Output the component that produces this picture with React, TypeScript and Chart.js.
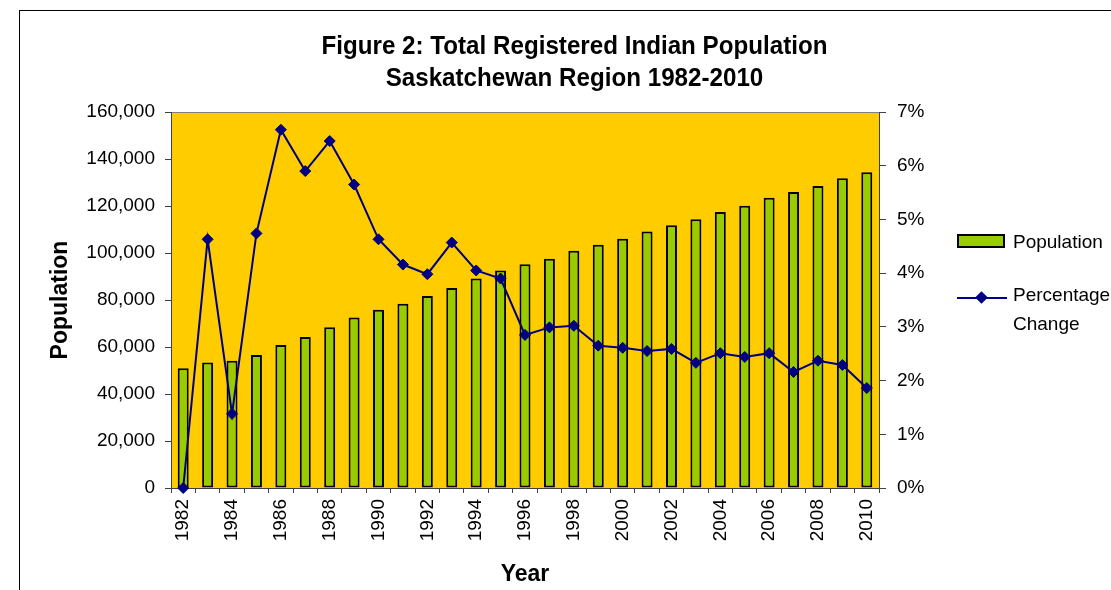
import { useEffect, useRef } from 'react';
import { Chart, registerables } from 'chart.js';

Chart.register(...registerables);

const years = [
  '1982', '1983', '1984', '1985', '1986', '1987', '1988', '1989', '1990', '1991',
  '1992', '1993', '1994', '1995', '1996', '1997', '1998', '1999', '2000', '2001',
  '2002', '2003', '2004', '2005', '2006', '2007', '2008', '2009', '2010',
];

const population = [
  51000, 53400, 54200, 56600, 60900, 64300, 68400, 72600, 75900, 78400,
  81700, 85100, 89200, 92600, 95200, 97600, 101000, 103500, 106100, 109200,
  111800, 114400, 117500, 120100, 123500, 126000, 128500, 131800, 134400,
];

const percentChange = [
  0, 4.63, 1.38, 4.74, 6.67, 5.9, 6.46, 5.65, 4.63, 4.16,
  3.98, 4.57, 4.05, 3.9, 2.85, 2.99, 3.02, 2.65, 2.61, 2.55,
  2.59, 2.33, 2.51, 2.44, 2.51, 2.16, 2.37, 2.29, 1.86,
];

const titleLines = ['Figure 2: Total Registered Indian Population', 'Saskatchewan Region 1982-2010'];
const legendLabels = ['Population', 'Percentage', 'Change'];

const FONT = '"Liberation Sans", Arial, Helvetica, sans-serif';
const BAR_GREEN = '#99CC00';
const PLOT_BG = '#FFCC00';
const NAVY = '#000080';
const AXIS = '#404040';

const plotBg = {
  id: 'plotBg',
  beforeDraw(chart: any) {
    const { ctx, chartArea } = chart;
    const { left, top, right, bottom } = chartArea;
    ctx.save();
    ctx.fillStyle = PLOT_BG;
    ctx.fillRect(left, top, right - left, bottom - top);
    ctx.strokeStyle = '#808080';
    ctx.lineWidth = 1;
    ctx.beginPath();
    ctx.moveTo(left, top + 0.5);
    ctx.lineTo(right, top + 0.5);
    ctx.stroke();
    ctx.restore();
  },
};

export default function App() {
  const canvasRef = useRef<HTMLCanvasElement | null>(null);

  useEffect(() => {
    if (!canvasRef.current) return;
    const chart = new Chart(canvasRef.current, {
      type: 'bar',
      data: {
        labels: years,
        datasets: [
          {
            type: 'line',
            label: 'Percentage Change',
            data: percentChange,
            yAxisID: 'y1',
            borderColor: NAVY,
            backgroundColor: NAVY,
            borderWidth: 2,
            pointStyle: 'rectRot',
            pointRadius: 5.5,
            pointBorderWidth: 1,
            pointBackgroundColor: NAVY,
            pointBorderColor: NAVY,
            tension: 0,
            clip: false,
            order: 0,
          } as any,
          {
            type: 'bar',
            label: 'Population',
            data: population,
            yAxisID: 'y',
            backgroundColor: BAR_GREEN,
            borderColor: '#000000',
            borderWidth: 2,
            borderSkipped: false,
            categoryPercentage: 1,
            barPercentage: 0.45,
            order: 1,
          } as any,
        ],
      },
      options: {
        responsive: false,
        animation: false,
        devicePixelRatio: 1,
        layout: { padding: { top: 112, left: 0, right: 0, bottom: 0 } },
        plugins: {
          legend: { display: false },
          title: { display: false },
          tooltip: { enabled: false },
        },
        scales: {
          x: {
            offset: true,
            grid: {
              offset: true,
              drawOnChartArea: false,
              drawTicks: true,
              tickLength: 5,
              color: AXIS,
            },
            border: { display: true, color: AXIS, width: 1 },
            ticks: {
              autoSkip: false,
              minRotation: 90,
              maxRotation: 90,
              padding: 6,
              color: '#000',
              font: { family: FONT, size: 19 },
              callback: function (this: any, value: any, index: number) {
                return index % 2 === 0 ? this.getLabelForValue(value) : '';
              },
            },
            title: {
              display: true,
              text: 'Year',
              color: '#000',
              font: { family: FONT, size: 23, weight: 'bold' },
              padding: { top: 0, bottom: 2 },
            },
            afterFit(scale: any) {
              scale.height = 102;
            },
          },
          y: {
            position: 'left',
            min: 0,
            max: 160000,
            grid: {
              drawOnChartArea: false,
              drawTicks: true,
              tickLength: 6,
              color: AXIS,
            },
            border: { display: true, color: AXIS, width: 1 },
            ticks: {
              stepSize: 20000,
              padding: 10,
              color: '#000',
              font: { family: FONT, size: 19 },
              callback: (v: any) => Number(v).toLocaleString('en-US'),
            },
            title: {
              display: true,
              text: 'Population',
              color: '#000',
              font: { family: FONT, size: 23, weight: 'bold' },
              padding: { top: 47, bottom: 0 },
            },
            afterFit(scale: any) {
              scale.width = 171;
            },
          },
          y1: {
            position: 'right',
            min: 0,
            max: 7,
            grid: {
              drawOnChartArea: false,
              drawTicks: true,
              tickLength: 7,
              color: AXIS,
            },
            border: { display: true, color: AXIS, width: 1 },
            ticks: {
              stepSize: 1,
              padding: 11,
              color: '#000',
              font: { family: FONT, size: 19 },
              callback: (v: any) => `${v}%`,
            },
            afterFit(scale: any) {
              scale.width = 232;
            },
          },
        },
      } as any,
      plugins: [plotBg],
    });
    return () => chart.destroy();
  }, []);

  return (
    <div
      style={{
        position: 'fixed',
        left: 0,
        top: 0,
        width: 1111,
        height: 590,
        overflow: 'hidden',
        background: '#ffffff',
        fontFamily: FONT,
        color: '#000',
      }}
    >
      <div
        style={{
          position: 'absolute',
          left: 19,
          top: 10,
          width: 1200,
          height: 700,
          borderLeft: '1px solid #000',
          borderTop: '1px solid #000',
        }}
      />
      <canvas
        ref={canvasRef}
        width={1111}
        height={590}
        style={{ position: 'absolute', left: 0, top: 0, width: 1111, height: 590 }}
      />
      <div
        style={{
          position: 'absolute',
          left: 0,
          top: 29,
          width: 1149,
          textAlign: 'center',
          fontWeight: 'bold',
          fontSize: 26,
          lineHeight: '32px',
          transform: 'scaleX(0.93)',
          transformOrigin: '574.5px 0',
          whiteSpace: 'nowrap',
        }}
      >
        {titleLines.map((t) => (
          <div key={t}>{t}</div>
        ))}
      </div>
      {/* Legend */}
      <div
        style={{
          position: 'absolute',
          left: 957,
          top: 234,
          width: 44,
          height: 10,
          background: BAR_GREEN,
          border: '2px solid #000',
        }}
      />
      <div
        style={{
          position: 'absolute',
          left: 1013,
          top: 228,
          fontSize: 19,
          lineHeight: '28px',
          whiteSpace: 'nowrap',
        }}
      >
        {legendLabels[0]}
      </div>
      <div
        style={{
          position: 'absolute',
          left: 957,
          top: 297,
          width: 50,
          height: 2,
          background: NAVY,
        }}
      />
      <div
        style={{
          position: 'absolute',
          left: 977,
          top: 293,
          width: 9,
          height: 9,
          background: NAVY,
          transform: 'rotate(45deg)',
        }}
      />
      <div
        style={{
          position: 'absolute',
          left: 1013,
          top: 281,
          fontSize: 19,
          lineHeight: '28.5px',
          whiteSpace: 'nowrap',
        }}
      >
        <div>{legendLabels[1]}</div>
        <div>{legendLabels[2]}</div>
      </div>
    </div>
  );
}
